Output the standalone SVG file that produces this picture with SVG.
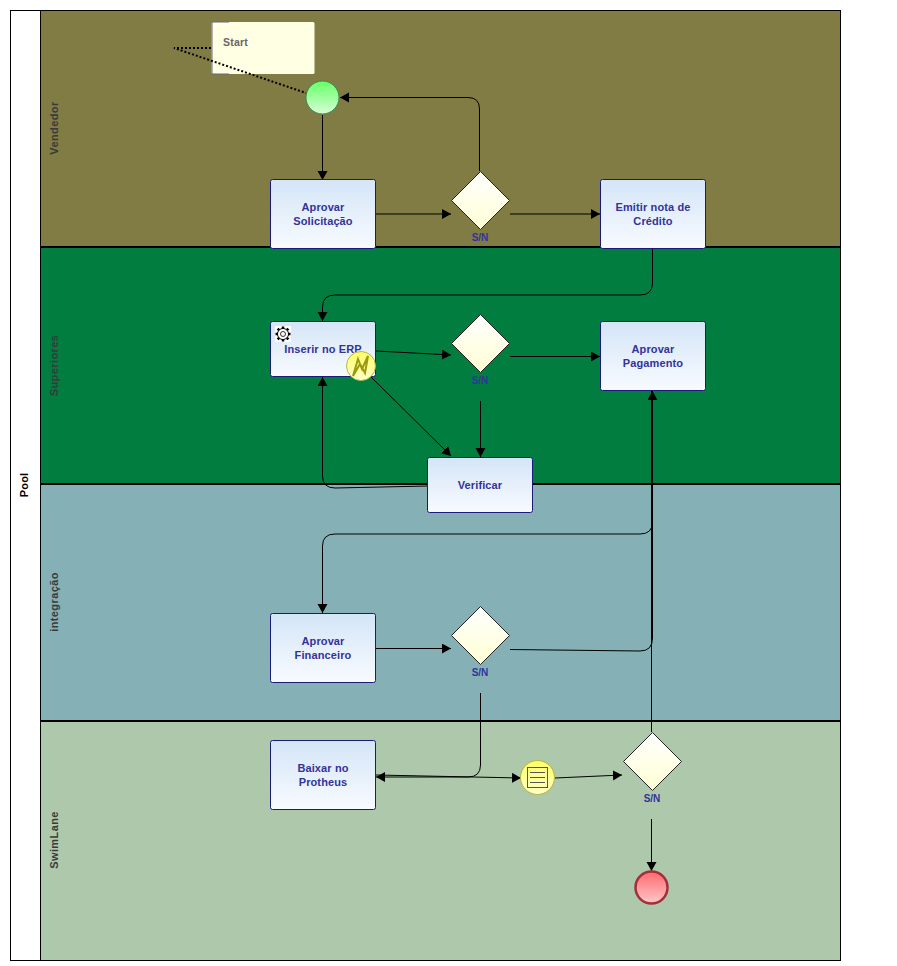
<svg xmlns="http://www.w3.org/2000/svg" width="897" height="966" viewBox="0 0 897 966">
<style>
text{font-family:"Liberation Sans",Arial,sans-serif;font-weight:bold;font-size:11px;letter-spacing:.12px}
.t{fill:#333399;text-anchor:middle}
.s{font-size:10px;letter-spacing:0}
.l{fill:#3a3a3a;text-anchor:middle;letter-spacing:.4px}
.task{fill:url(#gt);stroke:#1a1a7a;stroke-width:1}
.dia{fill:url(#gd);stroke:#222;stroke-width:1}
.c{fill:none;stroke:#000;stroke-width:1;marker-end:url(#a)}
.n{fill:none;stroke:#000;stroke-width:1}
.lane{stroke:#000;stroke-width:1}
.div{stroke:#000;stroke-width:2}
</style>
<defs>
<linearGradient id="gt" x1="0" y1="0" x2="0" y2="1"><stop offset="0" stop-color="#d4e5f7"/><stop offset="1" stop-color="#f8fbff"/></linearGradient>
<linearGradient id="gd" x1="0" y1="0" x2="0" y2="1"><stop offset="0" stop-color="#ffffff"/><stop offset="1" stop-color="#ffffd5"/></linearGradient>
<linearGradient id="gs" x1="0" y1="0" x2="0" y2="1"><stop offset="0" stop-color="#66ff66"/><stop offset="1" stop-color="#d8ffd8"/></linearGradient>
<linearGradient id="ge" x1="0" y1="0" x2="0" y2="1"><stop offset="0" stop-color="#ff6a70"/><stop offset="1" stop-color="#ffc8c8"/></linearGradient>
<linearGradient id="gy" x1="0" y1="0" x2="0" y2="1"><stop offset="0" stop-color="#ffff66"/><stop offset="1" stop-color="#ffffc8"/></linearGradient>
<marker id="a" markerWidth="12" markerHeight="12" refX="9" refY="5" orient="auto" markerUnits="userSpaceOnUse"><path d="M0,0L9,5L0,10Z" fill="#000"/></marker>
</defs>

<g id="pool">
<rect x="10.500" y="10.500" width="830" height="950" fill="#fff" stroke="#000"/>
<text transform="translate(28,485) rotate(-90)" text-anchor="middle" fill="#000">Pool</text>
</g>
<g id="lane-vendedor">
<rect class="lane" x="40.500" y="10.500" width="800" height="236" fill="#807c43"/>
<text class="l" transform="translate(58,128) rotate(-90)">Vendedor</text>
</g>
<g id="lane-superiores">
<rect class="lane" x="40.500" y="246.500" width="800" height="237" fill="#017d40"/>
<text class="l" transform="translate(58,365.500) rotate(-90)">Superiores</text>
</g>
<g id="lane-integracao">
<rect class="lane" x="40.500" y="483.500" width="800" height="237" fill="#84b0b6"/>
<text class="l" transform="translate(58,602) rotate(-90)">integração</text>
</g>
<g id="lane-swimlane">
<rect class="lane" x="40.500" y="720.500" width="800" height="240" fill="#adc8aa"/>
<text class="l" transform="translate(58,840) rotate(-90)">SwimLane</text>
</g>
<g id="lane-dividers">
<path class="div" d="M40,247H840M40,484H840M40,721H840"/>
</g>

<g id="note-start">
<rect x="211.500" y="22" width="103" height="52" rx="1.500" fill="#ffffe3"/>
<path d="M229,22H212V74H229" fill="none" stroke="#666680" stroke-width="1"/>
<text x="223" y="46" fill="#666" style="font-size:10.500px;letter-spacing:.2px">Start</text>
</g>

<g id="connectors">
<path d="M211,48H174L306,93" fill="none" stroke="#000" stroke-width="2" stroke-dasharray="2 2"/>
<path class="c" d="M322.500,115V180"/>
<path class="c" d="M479.500,171V109Q479.500,97.500 468,97.500H340"/>
<path class="c" d="M376,214H451"/>
<path class="c" d="M510,214H600"/>
<path class="c" d="M652.500,249V283Q652.500,295 640,295H335Q322.500,295 322.500,307V321"/>
<path class="c" d="M376,351L451,355"/>
<path class="c" d="M510,356.500H600"/>
<path class="c" d="M480.500,401V457"/>
<path class="c" d="M370,376L451,456"/>
<path class="c" d="M428,486L335,488Q322.500,488 322.500,476V377"/>
<path class="c" d="M652.500,484V522Q652.500,534 640,534H335Q322.500,534 322.500,546V613"/>
<path class="c" d="M376,648.500H451"/>
<path class="c" d="M510,649.500L640,651Q652.500,651 652.500,638V391"/>
<path class="c" d="M480.500,693V765Q480.500,777 468,777H376"/>
<path class="c" d="M376,775L521,778"/>
<path class="c" d="M555,778L622,775"/>
<path class="n" d="M651.500,732V391"/>
<path class="c" d="M651.500,819V871"/>
</g>

<g id="start-event">
<circle cx="322.500" cy="97.500" r="16.500" fill="url(#gs)" stroke="#3a8a4a"/>
</g>
<g id="task-aprovar-solicitacao">
<rect class="task" x="270.500" y="179.500" width="105" height="69" rx="2"/>
<text class="t" x="323" y="211">Aprovar</text><text class="t" x="323" y="225">Solicitação</text>
</g>
<g id="gateway-1">
<path class="dia" d="M480.500,171.500L509.500,200.500L480.500,229.500L451.500,200.500Z"/>
<text class="t s" x="480" y="241">S/N</text>
</g>
<g id="task-emitir">
<rect class="task" x="600.500" y="179.500" width="105" height="69" rx="2"/>
<text class="t" x="653" y="211">Emitir nota de</text><text class="t" x="653" y="225">Crédito</text>
</g>
<g id="task-inserir">
<rect class="task" x="270.500" y="321.500" width="105" height="55" rx="2"/>
<text class="t" x="323" y="353">Inserir no ERP</text>
<rect x="275" y="326" width="16" height="16" fill="#fff"/>
<g transform="translate(283,334)">
<circle r="5.500" fill="none" stroke="#000" stroke-width="1"/><circle r="2.500" fill="none" stroke="#000" stroke-width=".8"/>
<path d="M0,-7.500V-5M0,7.500V5M-7.500,0H-5M7.500,0H5M-5.400,-5.400L-3.800,-3.800M5.400,5.400L3.800,3.800M-5.400,5.400L-3.800,3.800M5.400,-5.400L3.800,-3.800" stroke="#000" stroke-width="2.500"/>
<circle r="4.500" fill="#fff" stroke="none"/><circle r="2.500" fill="none" stroke="#000" stroke-width=".8"/>
</g>
</g>
<g id="error-event">
<circle cx="361" cy="366" r="14.500" fill="url(#gy)" stroke="#b5b54a"/>
<path d="M353,376L358,359L362,369L368,356L365,373L360,364Z" fill="none" stroke="#9a9a10" stroke-width="2"/>
</g>
<g id="gateway-2">
<path class="dia" d="M480.500,314.500L509.500,343.500L480.500,372.500L451.500,343.500Z"/>
<text class="t s" x="480" y="384">S/N</text>
</g>
<g id="task-aprovar-pagamento">
<rect class="task" x="600.500" y="321.500" width="105" height="69" rx="2"/>
<text class="t" x="653" y="353">Aprovar</text><text class="t" x="653" y="367">Pagamento</text>
</g>
<g id="task-verificar">
<rect class="task" x="427.500" y="457.500" width="105" height="55" rx="2"/>
<text class="t" x="480" y="489">Verificar</text>
</g>
<g id="task-aprovar-financeiro">
<rect class="task" x="270.500" y="613.500" width="105" height="69" rx="2"/>
<text class="t" x="323" y="645">Aprovar</text><text class="t" x="323" y="659">Financeiro</text>
</g>
<g id="gateway-3">
<path class="dia" d="M480.500,606.500L509.500,635.500L480.500,664.500L451.500,635.500Z"/>
<text class="t s" x="480" y="676">S/N</text>
</g>
<g id="task-baixar">
<rect class="task" x="270.500" y="740.500" width="105" height="69" rx="2"/>
<text class="t" x="323" y="772">Baixar no</text><text class="t" x="323" y="786">Protheus</text>
</g>
<g id="message-event">
<circle cx="537.500" cy="777.500" r="17" fill="url(#gy)" stroke="#b5b53a"/>
<rect x="527.500" y="767.500" width="20" height="20" fill="none" stroke="#555"/>
<path d="M530,772.500H545M530,777.500H545M530,782.500H545" stroke="#555" fill="none"/>
</g>
<g id="gateway-4">
<path class="dia" d="M652.500,732.500L681.500,761.500L652.500,790.500L623.500,761.500Z"/>
<text class="t s" x="652" y="802">S/N</text>
</g>
<g id="end-event">
<circle cx="651.500" cy="887.500" r="16" fill="url(#ge)" stroke="#a33038" stroke-width="2.500"/>
</g>
</svg>
